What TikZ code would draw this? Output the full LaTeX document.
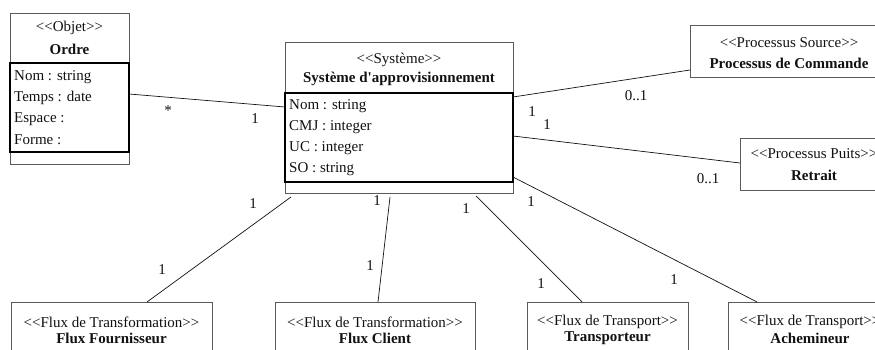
\documentclass[tikz,border=0pt]{standalone}
\usepackage{fontspec}
\setmainfont{Liberation Serif}
\usepackage{tikz}
\usetikzlibrary{calc,positioning}
\definecolor{boxline}{HTML}{5A5A5A}
\definecolor{figink}{HTML}{111111}

\begin{document}
\begin{tikzpicture}[
    x=1pt, y=-1pt,
    every node/.style={font=\fontsize{15}{17}\selectfont, text=figink, inner sep=0pt},
    classbox/.style={draw=boxline, line width=0.8pt, anchor=north west, outer sep=0pt},
    attrbox/.style={draw=black, line width=1.1pt},
    stereo/.style={anchor=center},
    cname/.style={anchor=center, font=\fontsize{15}{17}\selectfont\bfseries},
    attr/.style={anchor=west},
    mult/.style={anchor=center},
    assoc/.style={figink, line width=0.7pt},
  ]
  \clip (0,0) rectangle (875,350);

  % classe Ordre
  \node[classbox, minimum width=119pt, minimum height=151pt] (ordre) at (10,13) {};
  \draw[attrbox] (10,63) rectangle (129,152);
  \node[stereo] (ordreSt) at (69.5,28) {<{}<Objet>{}>};
  \node[cname] (ordreNm) at (69.5,49) {Ordre};
  \node[attr] (ordreA1) at (14,77) {Nom : string};
  \node[attr] (ordreA2) at (14,98) {Temps : date};
  \node[attr] (ordreA3) at (14,119) {Espace :};
  \node[attr] (ordreA4) at (14,140) {Forme :};

  % classe Systeme
  \node[classbox, minimum width=228pt, minimum height=151pt] (sys) at (285,42) {};
  \draw[attrbox] (285,93) rectangle (513,182);
  \node[stereo] (sysSt) at (399,60) {<{}<Système>{}>};
  \node[cname] (sysNm) at (399,79) {Système d\textquotesingle approvisionnement};
  \node[attr] (sysA1) at (289,106) {Nom : string};
  \node[attr] (sysA2) at (289,127) {CMJ : integer};
  \node[attr] (sysA3) at (289,148) {UC : integer};
  \node[attr] (sysA4) at (289,169) {SO : string};

  % processus
  \node[classbox, minimum width=198pt, minimum height=52pt] (proc) at (690,25) {};
  \node[stereo] (procSt) at (789,43) {<{}<Processus Source>{}>};
  \node[cname] (procNm) at (789,63) {Processus de Commande};
  \node[classbox, minimum width=148pt, minimum height=52pt] (retrait) at (740,138) {};
  \node[stereo] (retraitSt) at (814,154) {<{}<Processus Puits>{}>};
  \node[cname] (retraitNm) at (814,175) {Retrait};

  % flux
  \node[classbox, minimum width=201pt, minimum height=60pt] (fourn) at (11,302) {};
  \node[stereo] (fournSt) at (111.5,322) {<{}<Flux de Transformation>{}>};
  \node[cname] (fournNm) at (111.5,338) {Flux Fournisseur};
  \node[classbox, minimum width=200pt, minimum height=60pt] (client) at (275,302) {};
  \node[stereo] (clientSt) at (375,322) {<{}<Flux de Transformation>{}>};
  \node[cname] (clientNm) at (375,338) {Flux Client};
  \node[classbox, minimum width=161pt, minimum height=60pt] (transp) at (527,302) {};
  \node[stereo] (transpSt) at (607.5,322) {<{}<Flux de Transport>{}>};
  \node[cname] (transpNm) at (607.5,338) {Transporteur};
  \node[classbox, minimum width=164pt, minimum height=60pt] (achem) at (728,302) {};
  \node[stereo] (achemSt) at (810,322) {<{}<Flux de Transport>{}>};
  \node[cname] (achemNm) at (810,338) {Achemineur};

  % associations
  \draw[assoc] ([yshift=-81pt]ordre.north east) -- ([yshift=-65pt]sys.north west);
  \node[mult] (m1) at (168,111) {*};
  \node[mult] (m2) at (255,119) {1};

  \draw[assoc] ([yshift=-55pt]sys.north east) -- ([yshift=-45pt]proc.north west);
  \node[mult] (m3) at (532,112) {1};
  \node[mult] (m4) at (636,96) {0..1};

  \draw[assoc] ([yshift=-94pt]sys.north east) -- ([yshift=-25pt]retrait.north west);
  \node[mult] (m5) at (547,125) {1};
  \node[mult] (m6) at (708,179) {0..1};

  \draw[assoc] ([xshift=6pt,yshift=-4pt]sys.south west) -- ([xshift=136pt]fourn.north west);
  \node[mult] (m7) at (253,204) {1};
  \node[mult] (m8) at (162,270) {1};

  \draw[assoc] ([xshift=105pt,yshift=-4pt]sys.south west) -- ([xshift=103pt]client.north west);
  \node[mult] (m9) at (377,201) {1};
  \node[mult] (m10) at (370,266) {1};

  \draw[assoc] ([xshift=191pt,yshift=-3pt]sys.south west) -- ([xshift=55pt]transp.north west);
  \node[mult] (m11) at (466,209) {1};
  \node[mult] (m12) at (541,284) {1};

  \draw[assoc] ([yshift=-135pt]sys.north east) -- ([xshift=29pt]achem.north west);
  \node[mult] (m13) at (531,202) {1};
  \node[mult] (m14) at (674,280) {1};
\end{tikzpicture}
\end{document}
